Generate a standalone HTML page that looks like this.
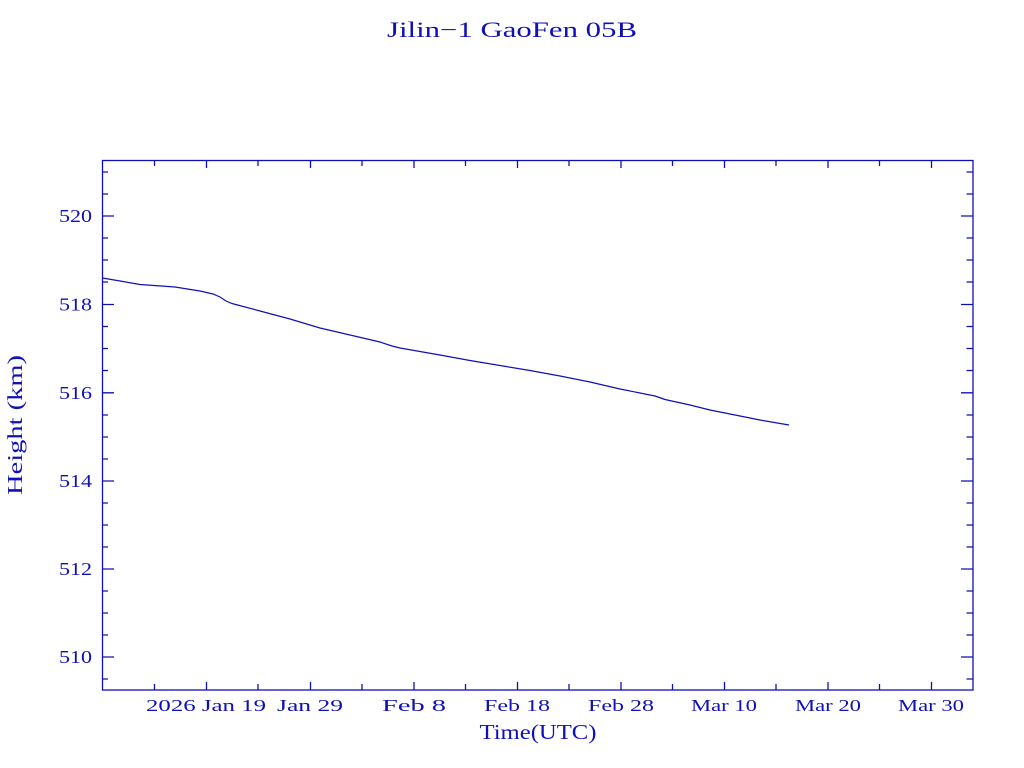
<!DOCTYPE html>
<html><head><meta charset="utf-8"><style>html,body{margin:0;padding:0;background:#fff}svg{display:block}</style></head>
<body>
<svg width="1024" height="768" xmlns="http://www.w3.org/2000/svg" font-family="Liberation Serif, serif" fill="#1010b8">
<rect width="1024" height="768" fill="#fff"/>
<g stroke="#1010b8" stroke-width="1.3" fill="none">
<rect x="102.5" y="160.5" width="870.5" height="529.5"/>
<path d="
M102.5,172H108 M966.5,172H973
M102.5,194H108 M966.5,194H973
M102.5,216H114 M961,216H973
M102.5,238H108 M966.5,238H973
M102.5,260H108 M966.5,260H973
M102.5,282H108 M966.5,282H973
M102.5,304.5H114 M961,304.5H973
M102.5,326.5H108 M966.5,326.5H973
M102.5,348.5H108 M966.5,348.5H973
M102.5,370.5H108 M966.5,370.5H973
M102.5,392.8H114 M961,392.8H973
M102.5,415H108 M966.5,415H973
M102.5,437H108 M966.5,437H973
M102.5,459H108 M966.5,459H973
M102.5,481H114 M961,481H973
M102.5,503H108 M966.5,503H973
M102.5,525H108 M966.5,525H973
M102.5,547H108 M966.5,547H973
M102.5,569H114 M961,569H973
M102.5,591H108 M966.5,591H973
M102.5,613H108 M966.5,613H973
M102.5,635H108 M966.5,635H973
M102.5,657H114 M961,657H973
M102.5,679H108 M966.5,679H973
M154.5,690V684 M154.5,160V166
M206.5,690V682 M206.5,160V168
M258,690V684 M258,160V166
M310.5,690V682 M310.5,160V168
M362,690V684 M362,160V166
M414,690V682 M414,160V168
M465.5,690V684 M465.5,160V166
M517.5,690V682 M517.5,160V168
M569,690V684 M569,160V166
M621,690V682 M621,160V168
M672.5,690V684 M672.5,160V166
M724.5,690V682 M724.5,160V168
M776,690V684 M776,160V166
M828,690V682 M828,160V168
M879.5,690V684 M879.5,160V166
M931.5,690V682 M931.5,160V168
"/>
<polyline stroke-width="1.2" points="102.5,278 120,281 140,284.5 175,287 200,291 213,294 220,297 226,301 232,303.5 260,311 290,319 320,328 350,335 380,342 392,346 400,348 440,355 470,360.5 500,365.5 530,370.5 560,376 590,382 620,389 655,396 665,399.5 690,405 710,410 730,414 760,420 789,425"/>
</g>
<text x="512" y="37" font-size="22" text-anchor="middle" textLength="250" lengthAdjust="spacingAndGlyphs">Jilin−1 GaoFen 05B</text>
<g font-size="18" text-anchor="end">
<text x="92" y="222" textLength="33" lengthAdjust="spacingAndGlyphs">520</text>
<text x="92" y="310.5" textLength="33" lengthAdjust="spacingAndGlyphs">518</text>
<text x="92" y="399" textLength="33" lengthAdjust="spacingAndGlyphs">516</text>
<text x="92" y="487" textLength="33" lengthAdjust="spacingAndGlyphs">514</text>
<text x="92" y="575" textLength="33" lengthAdjust="spacingAndGlyphs">512</text>
<text x="92" y="663" textLength="33" lengthAdjust="spacingAndGlyphs">510</text>
</g>
<g font-size="17" text-anchor="middle">
<text x="206" y="711" textLength="120" lengthAdjust="spacingAndGlyphs">2026 Jan 19</text>
<text x="310" y="711" textLength="66" lengthAdjust="spacingAndGlyphs">Jan 29</text>
<text x="414" y="711" textLength="64" lengthAdjust="spacingAndGlyphs">Feb  8</text>
<text x="517" y="711" textLength="66" lengthAdjust="spacingAndGlyphs">Feb 18</text>
<text x="621" y="711" textLength="66" lengthAdjust="spacingAndGlyphs">Feb 28</text>
<text x="724" y="711" textLength="66" lengthAdjust="spacingAndGlyphs">Mar 10</text>
<text x="828" y="711" textLength="66" lengthAdjust="spacingAndGlyphs">Mar 20</text>
<text x="931" y="711" textLength="66" lengthAdjust="spacingAndGlyphs">Mar 30</text>
</g>
<text x="538" y="739" font-size="21" text-anchor="middle" textLength="117" lengthAdjust="spacingAndGlyphs">Time(UTC)</text>
<text transform="translate(22,425) rotate(-90)" font-size="21" text-anchor="middle" textLength="140" lengthAdjust="spacingAndGlyphs">Height (km)</text>
</svg>
</body></html>
